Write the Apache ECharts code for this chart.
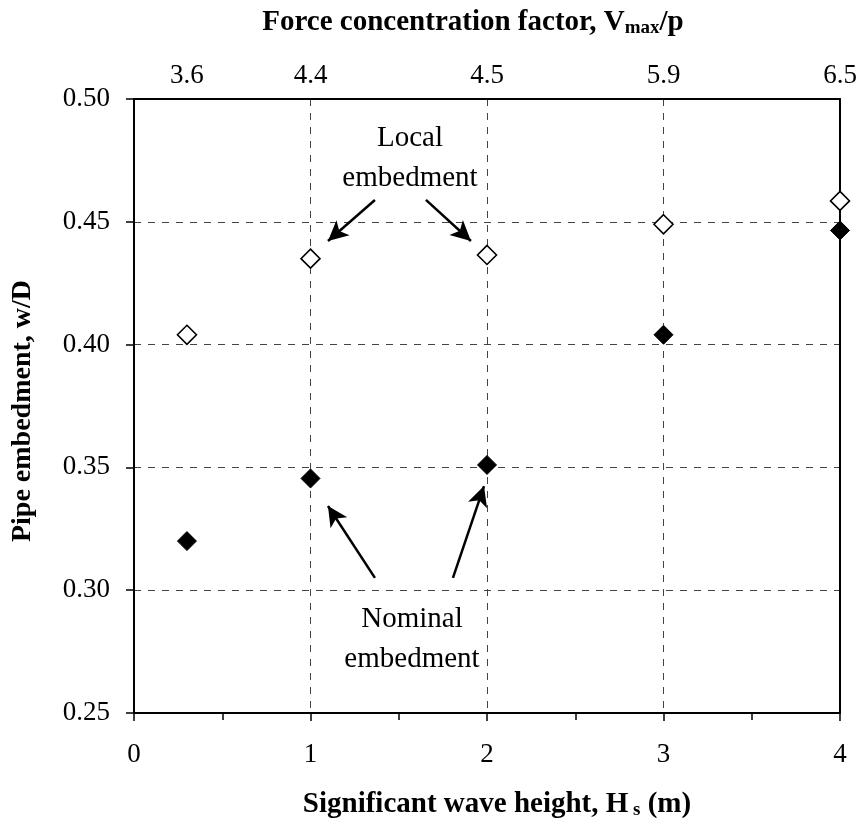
<!DOCTYPE html>
<html><head><meta charset="utf-8">
<script src="https://cdn.jsdelivr.net/npm/echarts@6/dist/echarts.min.js"></script>
<style>html,body{margin:0;padding:0;background:#fff}#c{width:865px;height:828px}</style>
</head><body><div id="c"></div>
<script>
// Data
const waveHeight = [0.3, 1, 2, 3, 4];
const localEmbedment = [0.404, 0.435, 0.4365, 0.449, 0.4585];
const nominalEmbedment = [0.320, 0.3455, 0.351, 0.404, 0.4465];
const forceFactorPositions = [0.3, 1, 2, 3, 4];
const forceFactorLabels = ['3.6', '4.4', '4.5', '5.9', '6.5'];
// Annotation arrows in data coordinates [start, end]
const localArrows = [[[1.365, 0.4589], [1.099, 0.4422]], [[1.654, 0.4589], [1.909, 0.4422]]];
const nominalArrows = [[[1.365, 0.305], [1.099, 0.3343]], [[1.807, 0.305], [1.983, 0.3424]]];

const FONT = 'Liberation Serif';
const chart = echarts.init(document.getElementById('c'));

function arrowLines(arr) {
  return arr.map(a => [{coord: a[0]}, {coord: a[1]}]);
}
const titleRich = {
  b: {fontFamily: FONT, fontWeight: 'bold', fontSize: 29, color: '#000'},
  s: {fontFamily: FONT, fontWeight: 'bold', fontSize: 19, color: '#000', verticalAlign: 'bottom', padding: [10, 0, 0, 0]}
};
function annText(txt, x, y) {
  return {type: 'text', x: x, y: y, z: 10,
    style: {text: txt, font: '29px "' + FONT + '"', fill: '#000', align: 'center', verticalAlign: 'middle', backgroundColor: '#fff'}};
}
const labelStyle = {fontFamily: FONT, fontSize: 27, color: '#000'};
const gridDash = {color: '#444', type: [7, 7], width: 1};

chart.setOption({
  animation: false,
  backgroundColor: '#fff',
  grid: {left: 134, right: 25, top: 99, bottom: 115, show: false},
  xAxis: [{
    type: 'value', min: 0, max: 4, interval: 1, position: 'bottom',
    axisLine: {show: true, onZero: false, lineStyle: {color: '#000', width: 2}},
    axisTick: {show: true, length: 8, lineStyle: {color: '#000', width: 1.5}},
    minorTick: {show: true, splitNumber: 2, length: 7, lineStyle: {color: '#000', width: 1.5}},
    axisLabel: Object.assign({margin: 28}, labelStyle),
    splitLine: {show: true, lineStyle: gridDash}
  }, {
    type: 'value', min: 0, max: 4, position: 'top',
    axisLine: {show: true, onZero: false, lineStyle: {color: '#000', width: 2}},
    axisTick: {show: false},
    axisLabel: Object.assign({
      margin: 10,
      customValues: forceFactorPositions,
      formatter: v => {
        const i = forceFactorPositions.findIndex(p => Math.abs(p - v) < 1e-6);
        return i >= 0 ? forceFactorLabels[i] : '';
      }
    }, labelStyle),
    splitLine: {show: false}
  }],
  yAxis: [{
    type: 'value', min: 0.25, max: 0.5, interval: 0.05,
    axisLine: {show: true, onZero: false, lineStyle: {color: '#000', width: 2}},
    axisTick: {show: true, length: 8, lineStyle: {color: '#000', width: 1.5}},
    axisLabel: Object.assign({margin: 24, formatter: v => v.toFixed(2)}, labelStyle),
    splitLine: {show: true, lineStyle: gridDash}
  }, {
    type: 'value', min: 0.25, max: 0.5, position: 'right',
    axisLine: {show: true, onZero: false, lineStyle: {color: '#000', width: 2}},
    axisTick: {show: false}, axisLabel: {show: false}, splitLine: {show: false}
  }],
  series: [{
    name: 'Local embedment', type: 'scatter', symbol: 'diamond', symbolSize: 19,
    clip: false, z: 5,
    itemStyle: {color: '#fff', borderColor: '#000', borderWidth: 1.6, opacity: 1},
    data: waveHeight.map((x, i) => [x, localEmbedment[i]]),
    markLine: {
      silent: true, symbol: ['none', 'arrow'], symbolSize: [15, 20],
      lineStyle: {color: '#000', width: 2.5, type: 'solid', opacity: 1}, label: {show: false},
      data: arrowLines(localArrows)
    }
  }, {
    name: 'Nominal embedment', type: 'scatter', symbol: 'diamond', symbolSize: 19,
    clip: false, z: 5,
    itemStyle: {color: '#000', borderColor: '#000', borderWidth: 1, opacity: 1},
    data: waveHeight.map((x, i) => [x, nominalEmbedment[i]]),
    markLine: {
      silent: true, symbol: ['none', 'arrow'], symbolSize: [15, 20],
      lineStyle: {color: '#000', width: 2.5, type: 'solid', opacity: 1}, label: {show: false},
      data: arrowLines(nominalArrows)
    }
  }],
  graphic: [
    {type: 'text', x: 473, y: 23,
      style: {text: '{b|Force concentration factor, V}{s|max}{b|/p}', rich: titleRich, align: 'center', verticalAlign: 'middle'}},
    {type: 'text', x: 497, y: 805,
      style: {text: '{b|Significant wave height, H}{s| s}{b| (m)}', rich: titleRich, align: 'center', verticalAlign: 'middle'}},
    {type: 'text', x: 23, y: 411, rotation: Math.PI / 2,
      style: {text: 'Pipe embedment, w/D', font: 'bold 28px "' + FONT + '"', fill: '#000', align: 'center', verticalAlign: 'middle'}},
    annText('Local', 410, 138),
    annText('embedment', 410, 178),
    annText('Nominal', 412, 619),
    annText('embedment', 412, 659)
  ]
});
</script></body></html>
